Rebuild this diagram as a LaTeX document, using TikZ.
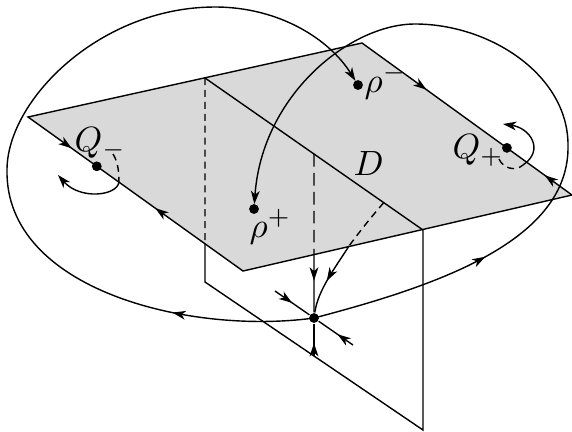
\documentclass[tikz,border=0pt]{standalone}
\usepackage{amsmath,amssymb}
\usepackage{tikz}
\usetikzlibrary{arrows.meta, calc, decorations.markings}

\begin{document}
\begin{tikzpicture}[
  x=0.285pt, y=-0.285pt,
  dot/.style={circle, fill, inner sep=0pt, minimum size=2.8pt},
  hidden/.style={dash pattern=on 2pt off 1.4pt},
  hiddenlong/.style={dash pattern=on 3.6pt off 1.8pt},
  endarrow/.style={-{Stealth[length=3.8pt, width=2.5pt, inset=1.1pt]}},
  flow/.style={postaction={decorate, decoration={markings,
      mark=at position #1 with {\arrow{Stealth[length=3.8pt, width=2.5pt, inset=1.1pt]}}}}},
  lbl/.style={anchor=base west, inner sep=0pt},
]
\useasboundingbox (0,0) rectangle (572,431);

% horizontal plane D
\coordinate (L) at (28,117);
\coordinate (T) at (362,43);
\coordinate (R) at (572,195);
\coordinate (B) at (243,271);
\filldraw[fill=black!15] (L) -- (T) -- (R) -- (B) -- cycle;

% vertical plane
\coordinate (P1) at (205,78);
\coordinate (P2) at (423,230);
\coordinate (P3) at (205,282);
\coordinate (P4) at (423,430);
\coordinate (X1) at (intersection of P1--P3 and L--B);
\draw[hidden] (P1) -- (X1);
\draw (X1) -- (P3) -- (P4) -- (P2) -- (P1);

% points
\node[dot] (S) at (314,318) {};
\node[dot] (rhom) at (358,85) {};
\node[dot] (rhop) at (254,209) {};
\node[dot] (Qm) at ($(L)!.32!(B)$) {};
\node[dot] (Qp) at ($(T)!.69!(R)$) {};

% manifolds of the saddle
\coordinate (M1) at ($(P1)!.5!(P2)$);
\coordinate (M2) at (intersection of M1--S and B--R);
\coordinate (M3) at ($(P3)!.5!(P4)$);
\coordinate (D1) at (275,291);
\coordinate (D2) at (353,345);
\draw[hiddenlong] (M1) -- (M2);
\draw[flow=.45] (M2) -- (S);
\draw[flow=.4] (M3) -- (S);
\draw[flow=.5] (D1) -- (S);
\draw[flow=.45] (D2) -- (S);

\coordinate (C1) at ($(P1)!.82!(P2)$);
\coordinate (E) at (349,246);
\draw[hidden] (C1) .. controls (372,216) and (360,231) .. (E);
\draw[flow=.55] (E) .. controls (335,268) and (318,290) .. (S);

% the two big loops
\draw[flow=.17, endarrow, shorten >=1.4pt] (S.center)
  .. controls (190,335) and (5,290) .. (7,170)
  .. controls (7,100) and (100,7) .. (215,7)
  .. controls (280,7) and (330,40) .. (rhom.center);
\draw[flow=.225, endarrow, shorten >=1.4pt] (S.center)
  .. controls (440,285) and (570,240) .. (568,145)
  .. controls (568,75) and (490,24) .. (415,24)
  .. controls (350,24) and (262,95) .. (rhop.center);

% flow on the edges
\path[flow=.68] (L) -- (Qm);
\path[flow=.62] (B) -- (Qm);
\path[flow=.46] (T) -- (Qp);
\path[flow=.45] (R) -- (Qp);

% near Q_- and Q_+
\coordinate (Qe) at ($(L)!.423!(B)$);
\draw[hidden] (113,154) .. controls (118,162) and (119,172) .. (Qe);
\draw[endarrow] (Qe) .. controls (117,196) and (80,200) .. (58,175);
\draw[hidden] (499,159) .. controls (503,168) and (515,172) .. (523,165);
\draw[endarrow] (523,165) .. controls (545,150) and (530,128) .. (503,124);

% labels
\node[lbl] (qmlab) at (74,151) {$Q_-$};
\node[lbl] (qplab) at (452,158) {$Q_+$};
\node[lbl] (rmlab) at (364,92) {$\rho^-$};
\node[lbl] (rplab) at (249,237) {$\rho^+$};
\node[lbl] (dlab) at (353,175) {$D$};
\end{tikzpicture}
\end{document}
